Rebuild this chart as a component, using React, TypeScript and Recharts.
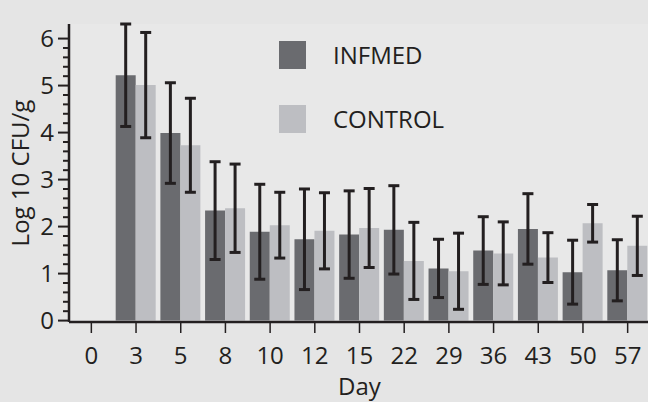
import React from 'react';
import { BarChart, Bar, XAxis, YAxis, ErrorBar, Legend, CartesianGrid } from 'recharts';

const days = ['0', '3', '5', '8', '10', '12', '15', '22', '29', '36', '43', '50', '57'];
const seriesNames = ['INFMED', 'CONTROL'];
const infmed = [0, 5.22, 3.99, 2.34, 1.89, 1.73, 1.83, 1.93, 1.11, 1.49, 1.95, 1.03, 1.07];
const infmedErr = [0.03, 1.09, 1.07, 1.04, 1.01, 1.07, 0.93, 0.94, 0.62, 0.72, 0.75, 0.68, 0.65];
const control = [0, 5.01, 3.73, 2.39, 2.03, 1.91, 1.97, 1.27, 1.05, 1.43, 1.34, 2.07, 1.59];
const controlErr = [0.03, 1.12, 1.0, 0.94, 0.7, 0.81, 0.84, 0.82, 0.81, 0.67, 0.53, 0.4, 0.63];
const yMajorTicks = [0, 1, 2, 3, 4, 5, 6];
const yMinorPerMajor = 5;

const data = days.map((d, i) => ({
  day: d,
  INFMED: infmed[i],
  infErr: infmedErr[i],
  CONTROL: control[i],
  ctlErr: controlErr[i],
}));

const yTicks: number[] = [];
for (let i = 0; i < yMajorTicks.length - 1; i++) {
  for (let k = 0; k < yMinorPerMajor; k++) {
    yTicks.push(+(yMajorTicks[i] + (k * (yMajorTicks[i + 1] - yMajorTicks[i])) / yMinorPerMajor).toFixed(4));
  }
}
yTicks.push(yMajorTicks[yMajorTicks.length - 1]);

const FONT = '"Open Sans", sans-serif';
const INK = '#231f20';
const C_INF = '#6a6b6f';
const C_CTL = '#bdbec2';

const YTick = (props: any) => {
  const { x, y, payload } = props;
  const v = payload.value;
  const major = yMajorTicks.includes(v);
  return (
    <g>
      <line x1={x} x2={x - (major ? 11 : 6)} y1={y} y2={y} stroke={INK} strokeWidth={2} />
      {major && (
        <text x={x - 15} y={y + 8.5} textAnchor="end" fontFamily={FONT} fontSize={24} fill={INK}>
          {v}
        </text>
      )}
    </g>
  );
};

const XTick = (props: any) => {
  const { x, y, payload } = props;
  return (
    <g>
      <line x1={x} x2={x} y1={y} y2={y + 11} stroke={INK} strokeWidth={1.5} />
      <text x={x} y={y + 42} textAnchor="middle" fontFamily={FONT} fontSize={24} fill={INK}>
        {payload.value}
      </text>
    </g>
  );
};

const renderLegend = (props: any) => {
  const payload = [...(props.payload || [])].sort(
    (a: any, b: any) => seriesNames.indexOf(a.value) - seriesNames.indexOf(b.value)
  );
  return (
    <div style={{ fontFamily: FONT, fontSize: 24, color: INK }}>
      {payload.map((p: any, i: number) => (
        <div key={i} style={{ display: 'flex', alignItems: 'center', height: 28, marginBottom: i === 0 ? 36 : 0 }}>
          <div style={{ width: 27, height: 28, background: p.color, marginRight: 27 }} />
          <span style={{ lineHeight: '28px' }}>{p.value}</span>
        </div>
      ))}
    </div>
  );
};

const YLabel = (props: any) => {
  const vb = props.viewBox;
  const cx = vb.x + 29;
  const cy = vb.y + vb.height / 2;
  return (
    <text x={cx} y={cy} transform={`rotate(-90, ${cx}, ${cy})`} textAnchor="middle" fontFamily={FONT} fontSize={24} fill={INK}>
      Log 10 CFU/g
    </text>
  );
};

const XLabel = (props: any) => {
  const vb = props.viewBox;
  const cx = vb.x + vb.width / 2;
  return (
    <text x={cx} y={395} textAnchor="middle" fontFamily={FONT} fontSize={24} fill={INK}>
      Day
    </text>
  );
};

export default function App() {
  return (
    <div style={{ position: 'absolute', left: 0, top: 0, width: 648, height: 402, background: '#e5e5e5', overflow: 'hidden' }}>
      <BarChart
        width={648}
        height={402}
        data={data}
        margin={{ top: 24, right: -2, bottom: 0, left: 0 }}
        barSize={20}
        barGap={0}
      >
        <CartesianGrid horizontal={false} vertical={false} fill="#e8e8e8" />
        <XAxis
          dataKey="day"
          height={80}
          interval={0}
          tickSize={0}
          tickMargin={0}
          tickLine={false}
          tick={<XTick />}
          axisLine={{ stroke: INK, strokeWidth: 2.5 }}
          label={<XLabel />}
        />
        <YAxis
          width={69}
          type="number"
          domain={[0, () => 6]}
          ticks={yTicks}
          interval={0}
          tickSize={0}
          tickMargin={0}
          tickLine={false}
          tick={<YTick />}
          axisLine={{ stroke: INK, strokeWidth: 2.5 }}
          label={<YLabel />}
        />
        <Legend
          layout="vertical"
          align="center"
          verticalAlign="middle"
          content={renderLegend}
          wrapperStyle={{ left: 279, top: 41, width: 'auto' }}
        />
        <Bar dataKey="INFMED" name="INFMED" fill={C_INF} isAnimationActive={false}>
          <ErrorBar dataKey="infErr" width={5.5} stroke={INK} strokeWidth={3} isAnimationActive={false} />
        </Bar>
        <Bar dataKey="CONTROL" name="CONTROL" fill={C_CTL} isAnimationActive={false}>
          <ErrorBar dataKey="ctlErr" width={5.5} stroke={INK} strokeWidth={3} isAnimationActive={false} />
        </Bar>
      </BarChart>
    </div>
  );
}
